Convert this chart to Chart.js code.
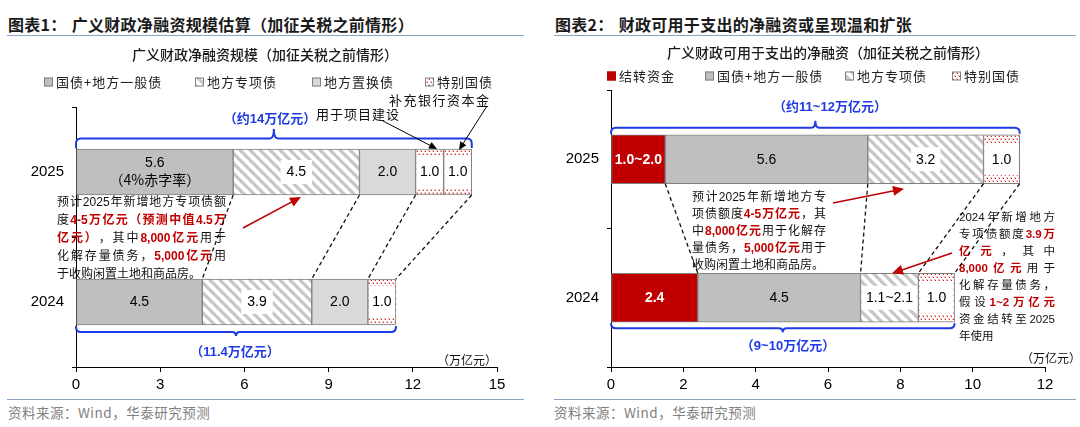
<!DOCTYPE html>
<html><head><meta charset="utf-8">
<script src="https://cdn.jsdelivr.net/npm/chart.js@4.4.1/dist/chart.umd.min.js"></script>
<style>
html,body{margin:0;padding:0;background:#fff;}
body{width:1080px;height:427px;position:relative;overflow:hidden;font-family:"Noto Sans CJK SC","Liberation Sans",sans-serif;}
.ttl{position:absolute;top:13px;font-size:16px;line-height:22px;font-weight:bold;color:#1a1a1a;white-space:nowrap;letter-spacing:0.3px}
.rule{position:absolute;height:1px;background:#8aa4c6;}
.src{position:absolute;top:403px;font-size:13.5px;line-height:18px;color:#7f7f7f;white-space:nowrap;letter-spacing:0.5px}
canvas{position:absolute;top:0}
</style></head>
<body>
<div class="ttl" style="left:8px">图表1：<span style="margin-left:5px">广义财政净融资规模估算（加征关税之前情形）</span></div>
<div class="ttl" style="left:555px">图表2：<span style="margin-left:5px">财政可用于支出的净融资或呈现温和扩张</span></div>
<div class="rule" style="left:7px;width:517px;top:35px"></div>
<div class="rule" style="left:554px;width:522px;top:35px"></div>
<div class="rule" style="left:7px;width:517px;top:399px"></div>
<div class="rule" style="left:554px;width:522px;top:399px"></div>
<div class="src" style="left:8px">资料来源：Wind，华泰研究预测</div>
<div class="src" style="left:554px">资料来源：Wind，华泰研究预测</div>
<canvas id="c1" width="540" height="427" style="left:0"></canvas>
<canvas id="c2" width="540" height="427" style="left:540px"></canvas>
<script>
// ===================== DATA =====================
const categories = ['2025', '2024'];

// Chart 1: 广义财政净融资规模
const leftGeneral = [5.6, 4.5];          // 国债+地方一般债
const leftSpecial = [4.5, 3.9];          // 地方专项债
const leftSwap = [2.0, 2.0];             // 地方置换债
const leftTreasuryProject = [1.0, 1.0];  // 特别国债（用于项目建设）
const leftTreasuryBank = [1.0, null];    // 特别国债（补充银行资本金）
const leftTicks = [0, 3, 6, 9, 12, 15];
const leftGeneralText = [['5.6', '（4%赤字率）'], null];

// Chart 2: 广义财政可用于支出的净融资
const rightCarry = [1.5, 2.4];           // 结转资金
const rightGeneral = [5.6, 4.5];         // 国债+地方一般债
const rightSpecial = [3.2, 1.6];         // 地方专项债
const rightTreasury = [1.0, 1.0];        // 特别国债
const rightTicks = [0, 2, 4, 6, 8, 10, 12];
const rightCarryText = [['1.0~2.0'], ['2.4']];
const rightSpecialText = [null, ['1.1~2.1']];

// ===================== STYLE HELPERS =====================
const FONT_LAT = '"Liberation Sans", Arial, "Noto Sans CJK SC", sans-serif';
const FONT_CJK = '"Noto Sans CJK SC", "Liberation Sans", sans-serif';
const RED = '#c00000', BLUE = '#1e3ae6', BORDER = '#808080';

function makeHatch(){
  const c=document.createElement('canvas'); c.width=10; c.height=10;
  const g=c.getContext('2d');
  g.fillStyle='#fff'; g.fillRect(0,0,10,10);
  g.strokeStyle='#c6c6c6'; g.lineWidth=3.2;
  for(const o of [-10,0,10]){ g.beginPath(); g.moveTo(o-2,-2); g.lineTo(o+12,12); g.stroke(); }
  return g.createPattern(c,'repeat');
}
function makeDots(){
  const c=document.createElement('canvas'); c.width=4; c.height=6;
  const g=c.getContext('2d');
  g.fillStyle='#fff'; g.fillRect(0,0,4,6);
  g.fillStyle='#f2c4c4';
  g.fillRect(0,0,2,2); g.fillRect(2,3,2,2);
  g.fillStyle='#d42a2a';
  g.fillRect(1,1,1,1); g.fillRect(3,4,1,1);
  return g.createPattern(c,'repeat');
}
const HATCH = makeHatch(), DOTS = makeDots();

function setFont(ctx,size,weight,fam){ ctx.font=(weight?weight+' ':'')+size+'px '+(fam||FONT_LAT); }
function text(ctx,s,x,y,o={}){
  setFont(ctx,o.size||13,o.weight||(o.bold?'bold':''),o.fam);
  ctx.fillStyle=o.color||'#111'; ctx.textAlign=o.align||'left'; ctx.textBaseline='middle';
  ctx.letterSpacing=(o.ls||0)+'px';
  ctx.fillText(s,x,y);
  ctx.letterSpacing='0px';
}
function arrow(ctx,x1,y1,x2,y2,color,w,head){
  const a=Math.atan2(y2-y1,x2-x1), c=Math.cos(a), s=Math.sin(a);
  ctx.save(); ctx.setLineDash([]);
  ctx.strokeStyle=color; ctx.lineWidth=w;
  ctx.beginPath(); ctx.moveTo(x1,y1); ctx.lineTo(x2-c*head*0.8,y2-s*head*0.8); ctx.stroke();
  ctx.fillStyle=color; ctx.beginPath(); ctx.moveTo(x2,y2);
  ctx.lineTo(x2-head*c+head*0.45*s, y2-head*s-head*0.45*c);
  ctx.lineTo(x2-head*c-head*0.45*s, y2-head*s+head*0.45*c);
  ctx.closePath(); ctx.fill(); ctx.restore();
}
function brace(ctx,x0,x1,yEnd,yLine,yTip){
  const xc=(x0+x1)/2, r=5, s=Math.sign(yEnd-yLine);
  ctx.save(); ctx.strokeStyle=BLUE; ctx.lineWidth=2; ctx.setLineDash([]);
  ctx.beginPath();
  ctx.moveTo(x0,yEnd); ctx.lineTo(x0,yLine+s*r);
  ctx.quadraticCurveTo(x0,yLine,x0+r,yLine);
  ctx.lineTo(xc-4,yLine); ctx.quadraticCurveTo(xc,yLine,xc,yTip);
  ctx.quadraticCurveTo(xc,yLine,xc+4,yLine);
  ctx.lineTo(x1-r,yLine); ctx.quadraticCurveTo(x1,yLine,x1,yLine+s*r);
  ctx.lineTo(x1,yEnd); ctx.stroke(); ctx.restore();
}
function para(ctx,lines,x,y0,lh,width,size){
  lines.forEach((segs,i)=>{
    const toks=[];
    segs.forEach(seg=>{
      const red=Array.isArray(seg); const t=red?seg[0]:seg;
      (t.match(/[\x21-\x7e]+|[^\x21-\x7e]/g)||[]).forEach(m=>toks.push({t:m,red}));
    });
    toks.forEach(k=>{ setFont(ctx,size,k.red?'bold':''); k.w=ctx.measureText(k.t).width; });
    const tot=toks.reduce((a,k)=>a+k.w,0);
    const last=i===lines.length-1;
    const gap=(!last&&toks.length>1)?Math.max(0,(width-tot)/(toks.length-1)):0;
    let cx=x; const y=y0+i*lh;
    ctx.textAlign='left'; ctx.textBaseline='middle';
    toks.forEach(k=>{ setFont(ctx,size,k.red?'bold':''); ctx.fillStyle=k.red?RED:'#111'; ctx.fillText(k.t,cx,y); cx+=k.w+gap; });
  });
}
function barProps(chart,di,j){ return chart.getDatasetMeta(di).data[j].getProps(['x','y','base','height'],true); }
function catTotal(chart,j){ return chart.data.datasets.reduce((a,d)=>a+(d.data[j]||0),0); }
function connectors(chart,ctx,idxTop,idxBot,yTop,yBot){
  ctx.save(); ctx.strokeStyle='#111'; ctx.lineWidth=1.3; ctx.setLineDash([4,3]);
  idxTop.forEach((di,k)=>{
    const a=barProps(chart,di,0).x, b=barProps(chart,idxBot[k],1).x;
    ctx.beginPath(); ctx.moveTo(a,yTop); ctx.lineTo(b,yBot); ctx.stroke();
  });
  ctx.restore();
}
function legend(chart,ctx,xs,y){
  let k=0;
  chart.data.datasets.forEach(ds=>{
    if(ds.noLegend) return;
    const x=xs[k++];
    ctx.fillStyle=ds.backgroundColor; ctx.fillRect(x,y-4.5,9,9);
    ctx.strokeStyle=ds.legendBorder||BORDER; ctx.lineWidth=1; ctx.strokeRect(x+0.5,y-4,8,8);
    text(ctx,ds.label,x+12,y,{size:13,fam:FONT_CJK,ls:1,color:'#222'});
  });
}

const segLabels={
  id:'segLabels',
  afterDatasetsDraw(chart){
    const ctx=chart.ctx;
    chart.data.datasets.forEach((ds,i)=>{
      chart.getDatasetMeta(i).data.forEach((el,j)=>{
        const v=ds.data[j]; if(v==null) return;
        const p=el.getProps(['x','y','base'],true);
        const cx=(p.x+p.base)/2, cy=p.y;
        const lines=(ds.texts&&ds.texts[j])||[v.toFixed(1)];
        if(ds.textBox){
          setFont(ctx,14,''); const segW=Math.abs(p.x-p.base)-2;
          const w=Math.min(ctx.measureText(lines[0]).width+(ds.boxPadX||10),segW), h=ds.boxH||26;
          ctx.fillStyle='#fff'; ctx.fillRect(cx-w/2,cy-h/2,w,h);
        }
        const col=ds.textColor||'#000', wt=ds.textBold?'bold':'';
        if(lines.length===1){ text(ctx,lines[0],cx,cy+0.5,{size:14,weight:wt,color:col,align:'center'}); }
        else {
          text(ctx,lines[0],cx,cy-9,{size:14,weight:wt,color:col,align:'center'});
          text(ctx,lines[1],cx,cy+8,{size:14,fam:FONT_CJK,color:col,align:'center'});
        }
      });
    });
  }
};
function extras(fn){ return {id:'extras',afterDraw(chart){ fn(chart,chart.ctx); }}; }

function axes(ticks,max,yWidth){
  const grid={display:true,drawOnChartArea:false,drawTicks:true,color:'#000',lineWidth:1};
  return {
    x:{stacked:true,min:0,max:max,
       afterBuildTicks:s=>{s.ticks=ticks.map(v=>({value:v}));},
       afterFit:s=>{s.height=60;},
       grid:Object.assign({tickLength:5},grid),
       border:{display:true,color:'#000',width:1},
       ticks:{font:{family:FONT_LAT,size:15},color:'#000',padding:4,maxRotation:0,autoSkip:false}},
    y:{stacked:true,
       afterFit:s=>{s.width=yWidth;},
       grid:Object.assign({tickLength:4},grid),
       border:{display:true,color:'#000',width:1},
       ticks:{font:{family:FONT_LAT,size:15},color:'#000',padding:8}}
  };
}
function base(d,th){ return Object.assign({borderColor:BORDER,borderWidth:1,borderSkipped:false,barThickness:th},d); }

// ===================== CHART 1 =====================
const leftNote=[
  ['预计2025年新增地方专项债额'],
  ['度',['4-5万亿元（预测中值4.5万']],
  [['亿元）'],'，其中',['8,000亿元'],'用于'],
  ['化解存量债务，',['5,000亿元'],'用'],
  ['于收购闲置土地和商品房。']
];
new Chart(document.getElementById('c1'),{
  type:'bar',
  data:{labels:categories,datasets:[
    base({label:'国债+地方一般债',data:leftGeneral,backgroundColor:'#bfbfbf',texts:leftGeneralText},46),
    base({label:'地方专项债',data:leftSpecial,backgroundColor:HATCH,textBox:true,boxH:24,boxPadX:12},46),
    base({label:'地方置换债',data:leftSwap,backgroundColor:'#d9d9d9'},46),
    base({label:'特别国债',data:leftTreasuryProject,backgroundColor:DOTS,textBox:true,boxH:32,boxPadX:14},46),
    base({label:'特别国债（补充银行资本金）',data:leftTreasuryBank,backgroundColor:DOTS,textBox:true,boxH:32,boxPadX:14,noLegend:true},46)
  ]},
  options:{indexAxis:'y',responsive:false,animation:false,
    layout:{padding:{left:0,right:43,top:107,bottom:0}},
    plugins:{legend:{display:false},title:{display:false},tooltip:{enabled:false}},
    scales:axes(leftTicks,15,76)},
  plugins:[segLabels,extras((chart,ctx)=>{
    const xs=chart.scales.x;
    const b25=barProps(chart,0,0), b24=barProps(chart,0,1);
    const top25=b25.y-b25.height/2, bot25=b25.y+b25.height/2, top24=b24.y-b24.height/2, bot24=b24.y+b24.height/2;
    text(ctx,'广义财政净融资规模（加征关税之前情形）',265,55,{size:14,weight:500,fam:FONT_CJK,align:'center',color:'#1a1a1a'});
    legend(chart,ctx,[44,195,312,425],82);
    para(ctx,leftNote,57,203,17.8,169,12);
    connectors(chart,ctx,[0,1,2,4],[0,1,2,3],bot25,top24);
    const x0=xs.getPixelForValue(0);
    brace(ctx,x0,xs.getPixelForValue(catTotal(chart,0)),top25-1,top25-10.5,top25-20);
    text(ctx,'（约14万亿元）',270,119,{size:13,bold:true,color:BLUE,align:'center'});
    brace(ctx,x0,xs.getPixelForValue(catTotal(chart,1)),bot24+1,bot24+7,bot24+11);
    text(ctx,'（11.4万亿元）',235,352,{size:13,bold:true,color:BLUE,align:'center'});
    text(ctx,'用于项目建设',316,114,{size:13,fam:FONT_CJK,ls:1});
    text(ctx,'补充银行资本金',389,100.5,{size:13,fam:FONT_CJK,ls:1.5});
    arrow(ctx,383,121,437,top25,'#000',1,8);
    arrow(ctx,487,106,459,top25+1,'#000',1,8);
    arrow(ctx,243,228,301,bot25+2,RED,1.6,11);
    text(ctx,'（万亿元）',497,360,{size:12,fam:FONT_CJK,align:'right'});
  })]
});

// ===================== CHART 2 =====================
const midNote=[
  ['预计2025年新增地方专'],
  ['项债额度',['4-5万亿元'],'，其'],
  ['中',['8,000亿元'],'用于化解存'],
  ['量债务，',['5,000亿元'],'用于'],
  ['收购闲置土地和商品房。']
];
const sideNote=[
  ['2024年新增地方'],
  ['专项债额度',['3.9万']],
  [['亿元'],'，其中'],
  [['8,000亿元'],'用于'],
  ['化解存量债务，'],
  ['假设',['1~2万亿元']],
  ['资金结转至2025'],
  ['年使用']
];
new Chart(document.getElementById('c2'),{
  type:'bar',
  data:{labels:categories,datasets:[
    base({label:'结转资金',data:rightCarry,backgroundColor:RED,texts:rightCarryText,textColor:'#fff',textBold:true,legendBorder:RED},49),
    base({label:'国债+地方一般债',data:rightGeneral,backgroundColor:'#bfbfbf'},49),
    base({label:'地方专项债',data:rightSpecial,backgroundColor:HATCH,textBox:true,texts:rightSpecialText,boxH:24,boxPadX:10},49),
    base({label:'特别国债',data:rightTreasury,backgroundColor:DOTS,textBox:true,boxH:32,boxPadX:16},49)
  ]},
  options:{indexAxis:'y',responsive:false,animation:false,
    layout:{padding:{left:0,right:35,top:90,bottom:0}},
    plugins:{legend:{display:false},title:{display:false},tooltip:{enabled:false}},
    scales:axes(rightTicks,12,71)},
  plugins:[segLabels,extras((chart,ctx)=>{
    const xs=chart.scales.x;
    const b25=barProps(chart,0,0), b24=barProps(chart,0,1);
    const top25=b25.y-b25.height/2, bot25=b25.y+b25.height/2, top24=b24.y-b24.height/2, bot24=b24.y+b24.height/2;
    text(ctx,'广义财政可用于支出的净融资（加征关税之前情形）',288,53,{size:14,weight:500,fam:FONT_CJK,align:'center',color:'#1a1a1a'});
    legend(chart,ctx,[67,165,305,412],76);
    para(ctx,midNote,152,198,16.8,134,12);
    para(ctx,sideNote,419,218,17,96,11.5);
    connectors(chart,ctx,[0,1,2,3],[0,1,2,3],bot25,top24);
    const x0=xs.getPixelForValue(0);
    brace(ctx,x0,xs.getPixelForValue(catTotal(chart,0)),top25-1,top25-7,top25-14);
    text(ctx,'（约11~12万亿元）',290,107,{size:13,bold:true,color:BLUE,align:'center'});
    brace(ctx,x0,xs.getPixelForValue(catTotal(chart,1)),bot24+1,bot24+6,bot24+10);
    text(ctx,'（9~10万亿元）',248,346,{size:13,bold:true,color:BLUE,align:'center'});
    arrow(ctx,293,203,364,bot25+5,RED,1.6,11);
    arrow(ctx,412,253,352,top24,RED,1.6,11);
    text(ctx,'（万亿元）',481,358,{size:12,fam:FONT_CJK});
  })]
});
</script>
</body></html>
